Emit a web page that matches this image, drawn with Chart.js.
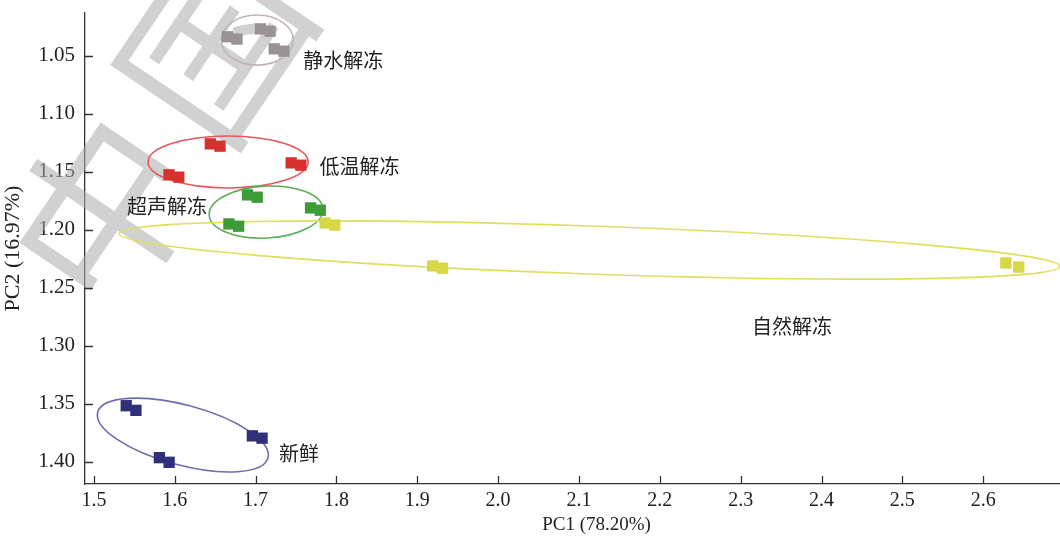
<!DOCTYPE html>
<html>
<head>
<meta charset="utf-8">
<script src="https://cdn.jsdelivr.net/npm/chart.js@4/dist/chart.umd.min.js"></script>
<style>
  html, body { margin: 0; padding: 0; background: #fff; overflow: hidden; }
  #wrap { width: 1060px; height: 540px; }
</style>
</head>
<body>
<div id="wrap"><canvas id="pcaChart"></canvas></div>
<script>
// groups, points (two replicates per sample)
const groups = ["静水解冻", "低温解冻", "超声解冻", "自然解冻", "新鲜"];
const pc1 = [
    [1.665, 1.677, 1.706, 1.718, 1.723, 1.735],
    [1.644, 1.656, 1.744, 1.756, 1.593, 1.605],
    [1.690, 1.702, 1.768, 1.780, 1.667, 1.679],
    [1.786, 1.798, 1.919, 1.931, 2.628, 2.644],
    [1.540, 1.552, 1.696, 1.708, 1.581, 1.593],
];
const pc2 = [
    [1.0335, 1.0355, 1.0267, 1.0287, 1.0439, 1.0459],
    [1.1258, 1.1278, 1.1422, 1.1442, 1.1525, 1.1545],
    [1.1698, 1.1718, 1.1810, 1.1830, 1.1948, 1.1968],
    [1.1940, 1.1958, 1.2310, 1.2330, 1.2285, 1.2320],
    [1.3515, 1.3555, 1.3775, 1.3795, 1.3963, 1.4003],
];
const pointColors = ["#9b9393", "#d8302c", "#3e9c38", "#d8d746", "#2f2f7a"];
const ringColors = ["#c2b5b3", "#e8585c", "#5caf57", "#dfdf5c", "#6d6dae"];

// confidence ellipses: centre, semi-axes (data units), tilt in degrees
const ringX = [1.702, 1.666, 1.713, 2.113, 1.610];
const ringY = [1.0363, 1.1414, 1.1846, 1.2173, 1.3768];
const ringRx = [0.0446, 0.099, 0.0705, 0.582, 0.109];
const ringRy = [0.0216, 0.0224, 0.0224, 0.0207, 0.0259];
const ringTilt = [0, 0, -3, 2, 15];

// group name positions
const labelX = [1.759, 1.779, 1.541, 2.314, 1.729];
const labelY = [1.0535, 1.1449, 1.1794, 1.2828, 1.3923];

const xTicks = [1.5, 1.6, 1.7, 1.8, 1.9, 2.0, 2.1, 2.2, 2.3, 2.4, 2.5, 2.6];
const yTicks = [1.05, 1.10, 1.15, 1.20, 1.25, 1.30, 1.35, 1.40];

const serif = "'Liberation Serif', 'DejaVu Serif', serif";
const cjk = "'Noto Sans CJK SC', sans-serif";

const datasets = groups.map((g, i) => ({
    label: g,
    data: pc1[i].map((x, j) => ({ x: x, y: pc2[i][j] })),
    backgroundColor: pointColors[i],
    borderWidth: 0,
    pointStyle: "rect",
    pointRadius: 8,
    pointHoverRadius: 8,
}));

const rings = {
    id: "rings",
    beforeDatasetsDraw(chart) {
        const c = chart.ctx;
        const xs = chart.scales.x, ys = chart.scales.y;
        // faint "中国" watermark over the top-left corner, under the marks
        c.save();
        c.translate(158, 128);
        c.rotate(-56 * Math.PI / 180);
        c.fillStyle = "rgba(172,172,172,0.55)";
        c.font = "180px " + cjk;
        c.textAlign = "center";
        c.textBaseline = "middle";
        c.fillText("中", -100, 0);
        c.fillText("国", 100, 0);
        c.restore();

        c.save();
        ringX.forEach((cx, i) => {
            const px = xs.getPixelForValue(cx);
            const py = ys.getPixelForValue(ringY[i]);
            const rx = Math.abs(xs.getPixelForValue(cx + ringRx[i]) - px);
            const ry = Math.abs(ys.getPixelForValue(ringY[i] + ringRy[i]) - py);
            c.beginPath();
            c.ellipse(px, py, rx, ry, ringTilt[i] * Math.PI / 180, 0, Math.PI * 2);
            c.strokeStyle = ringColors[i];
            c.lineWidth = 1.6;
            c.stroke();
        });
        c.restore();
    },
    afterDatasetsDraw(chart) {
        const c = chart.ctx;
        const xs = chart.scales.x, ys = chart.scales.y;
        const area = chart.chartArea;
        c.save();
        c.font = "20px " + cjk;
        c.fillStyle = "#222";
        c.textBaseline = "middle";
        groups.forEach((g, i) => {
            c.fillText(g, xs.getPixelForValue(labelX[i]), ys.getPixelForValue(labelY[i]));
        });
        // inward tick marks
        c.strokeStyle = "#333";
        c.lineWidth = 1.3;
        c.beginPath();
        xs.ticks.forEach((t) => {
            const p = Math.round(xs.getPixelForValue(t.value)) + 0.5;
            c.moveTo(p, area.bottom);
            c.lineTo(p, area.bottom - 8);
        });
        ys.ticks.forEach((t) => {
            const p = Math.round(ys.getPixelForValue(t.value)) + 0.5;
            c.moveTo(area.left, p);
            c.lineTo(area.left + 8, p);
        });
        c.stroke();
        // x axis title (sits a little right of centre in the original)
        c.font = "19px " + serif;
        c.textAlign = "center";
        c.fillText("PC1 (78.20%)", (area.left + area.right) / 2 + 24, area.bottom + 41);
        c.restore();
    },
};

new Chart(document.getElementById("pcaChart"), {
    type: "scatter",
    data: { datasets: datasets },
    options: {
        responsive: true,
        maintainAspectRatio: false,
        animation: false,
        layout: { autoPadding: false, padding: { top: 13, right: 0, left: 0, bottom: 0 } },
        plugins: {
            legend: { display: false },
            tooltip: { enabled: false },
        },
        scales: {
            x: {
                type: "linear",
                min: 1.489,
                max: 2.695,
                afterBuildTicks: (s) => { s.ticks = xTicks.map((v) => ({ value: v })); },
                afterFit: (s) => { s.height = 56; s.paddingRight = 0; s.paddingLeft = 0; },
                grid: { display: true, drawOnChartArea: false, drawTicks: false },
                border: { display: true, color: "#333", width: 1.3 },
                ticks: {
                    padding: 5,
                    color: "#222",
                    font: { family: serif, size: 20 },
                    callback: (v) => v.toFixed(1),
                },
            },
            y: {
                type: "linear",
                reverse: true,
                min: 1.013,
                max: 1.419,
                afterBuildTicks: (s) => { s.ticks = yTicks.map((v) => ({ value: v })); },
                afterFit: (s) => { s.width = 85; s.paddingTop = 0; s.paddingBottom = 0; },
                grid: { display: true, drawOnChartArea: false, drawTicks: false },
                border: { display: true, color: "#333", width: 1.3 },
                ticks: {
                    padding: 10,
                    color: "#222",
                    font: { family: serif, size: 21 },
                    callback: (v) => v.toFixed(2),
                },
                title: {
                    display: true,
                    text: "PC2 (16.97%)",
                    color: "#222",
                    font: { family: serif, size: 22 },
                    padding: { top: 0, bottom: 0 },
                },
            },
        },
    },
    plugins: [rings],
});
</script>
</body>
</html>
